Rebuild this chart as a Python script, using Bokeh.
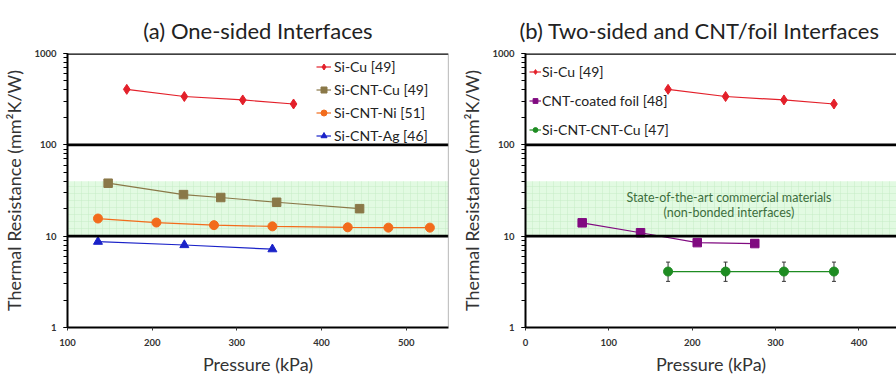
from bokeh.plotting import figure
from bokeh.layouts import row
from bokeh.models import (Span, BoxAnnotation, Whisker, ColumnDataSource, Legend,
                          LegendItem, FixedTicker, LogTicker, Label, PrintfTickFormatter)
from bokeh.embed import file_html
from bokeh.resources import INLINE

# ---------------- data ----------------
# (a) One-sided interfaces
sicu_p = [170, 238, 307, 367]
sicu_r = [405, 338, 310, 280]
cntcu_p = [148, 237, 281, 347, 445]
cntcu_r = [38, 28.5, 26.5, 23.5, 20]
cntni_p = [136, 205, 273, 342, 431, 479, 528]
cntni_r = [15.6, 14.1, 13.2, 12.8, 12.5, 12.4, 12.4]
cntag_p = [136, 238, 342]
cntag_r = [8.7, 8.0, 7.2]

# (b) Two-sided and CNT/foil interfaces
foil_p = [68, 138, 206, 275]
foil_r = [14.0, 10.9, 8.5, 8.3]
cnt2_p = [171, 240, 310, 370]
cnt2_r = [4.1, 4.1, 4.1, 4.1]
cnt2_hi = [5.2, 5.2, 5.2, 5.2]
cnt2_lo = [3.2, 3.2, 3.2, 3.2]

band_low, band_high = 10, 40
xa_ticks = [100, 200, 300, 400, 500]
xb_ticks = [0, 100, 200, 300, 400]

FONT = "Lato"
RED = "#e3202a"
BROWN = "#8a7848"
ORANGE = "#f26c1c"
BLUE = "#1a22c8"
PURPLE = "#800a80"
GREEN = "#1e8c22"


def base_fig(title, x_range, width, left_border, right_border):
    p = figure(width=width, height=377, x_range=x_range, y_range=(1, 1000),
               y_axis_type="log", output_backend="svg", toolbar_location=None,
               min_border_left=left_border, min_border_right=right_border,
               min_border_top=53, min_border_bottom=49, title=title)
    p.title.text_font = FONT
    p.title.text_font_size = "22px"
    p.title.text_font_style = "normal"
    p.title.align = "center"
    p.title.text_color = "#222222"
    p.title.standoff = 19
    p.grid.visible = False
    p.outline_line_color = None
    p.background_fill_color = "white"
    p.border_fill_color = "white"

    band = BoxAnnotation(bottom=band_low, top=band_high, fill_color="#e2fae2",
                         fill_alpha=1.0, line_color=None,
                         hatch_pattern="+", hatch_color="#c4ecc4",
                         hatch_alpha=0.8, hatch_scale=7, hatch_weight=0.6,
                         level="underlay")
    p.add_layout(band)
    for yv in [10, 100, 1000]:
        p.add_layout(Span(location=yv, dimension="width", line_color="black",
                          line_width=2.6))

    for ax in (p.xaxis[0], p.yaxis[0]):
        ax.axis_line_color = "black"
        ax.axis_line_width = 2
        ax.major_label_text_font = FONT
        ax.major_label_text_font_size = "9.5px"
        ax.major_label_text_font_style = "bold"
        ax.major_label_text_color = "#333333"
        ax.axis_label_text_font = FONT
        ax.axis_label_text_font_style = "normal"
        ax.axis_label_text_color = "#333333"
        ax.major_tick_line_color = "#333333"
        ax.major_tick_in = 0
        ax.major_tick_out = 3

    p.xaxis.axis_label = "Pressure (kPa)"
    p.xaxis.axis_label_text_font_size = "18px"
    p.xaxis.major_label_standoff = 8
    p.xaxis.axis_label_standoff = 4
    p.xaxis.minor_tick_line_color = None
    p.yaxis.axis_label = "Thermal Resistance (mm²K/W)"
    p.yaxis.axis_label_text_font_size = "18px"
    p.yaxis.ticker = LogTicker(mantissas=[1], num_minor_ticks=10)
    p.yaxis.formatter = PrintfTickFormatter(format="%d")
    p.yaxis.major_label_standoff = 7
    p.yaxis.axis_label_standoff = 6
    p.yaxis.major_tick_out = 0
    p.yaxis.minor_tick_line_color = "black"
    p.yaxis.minor_tick_line_width = 1
    p.yaxis.minor_tick_in = 0
    p.yaxis.minor_tick_out = 4
    return p


def series(p, xs, ys, color, marker, size):
    r1 = p.line(xs, ys, line_color=color, line_width=1.2)
    r2 = p.scatter(xs, ys, marker=marker, size=size, fill_color=color,
                   line_color=color)
    return [r1, r2]


# ---------------- panel (a) ----------------
pa = base_fig("(a) One-sided Interfaces", (100, 550), 458, 65, 10)
pa.xaxis.ticker = FixedTicker(ticks=xa_ticks)
pa.add_layout(Span(location=550, dimension="height", line_color="#888888",
                   line_width=1.2))

ra = [
    ("Si-Cu [49]", series(pa, sicu_p, sicu_r, RED, "diamond", 10)),
    ("Si-CNT-Cu [49]", series(pa, cntcu_p, cntcu_r, BROWN, "square", 8.5)),
    ("Si-CNT-Ni [51]", series(pa, cntni_p, cntni_r, ORANGE, "circle", 9)),
    ("Si-CNT-Ag [46]", series(pa, cntag_p, cntag_r, BLUE, "triangle", 9)),
]
leg_a = Legend(items=[LegendItem(label=l, renderers=r) for l, r in ra],
               location=(249, 183), glyph_width=15, glyph_height=15,
               label_height=15, spacing=6, padding=0, margin=0,
               label_standoff=3, background_fill_alpha=0,
               border_line_color=None, label_text_font=FONT,
               label_text_font_size="14px", label_text_color="#222222")
pa.add_layout(leg_a)

# ---------------- panel (b) ----------------
pb = base_fig("(b) Two-sided and CNT/foil Interfaces", (0, 445), 438, 64, 0)
pb.title.align = "left"
pb.title.offset = -6
pb.xaxis.ticker = FixedTicker(ticks=xb_ticks)

rb = [
    ("Si-Cu [49]", series(pb, cnt2_p, sicu_r, RED, "diamond", 10)),
    ("CNT-coated foil [48]", series(pb, foil_p, foil_r, PURPLE, "square", 8.5)),
]
src = ColumnDataSource(dict(x=cnt2_p, hi=cnt2_hi, lo=cnt2_lo))
wh = Whisker(base="x", upper="hi", lower="lo", source=src,
             line_color="#333333", line_width=1)
wh.upper_head.size = 4
wh.lower_head.size = 4
wh.upper_head.line_color = "#333333"
wh.lower_head.line_color = "#333333"
pb.add_layout(wh)
rb.append(("Si-CNT-CNT-Cu [47]", series(pb, cnt2_p, cnt2_r, GREEN, "circle", 9)))

leg_b = Legend(items=[LegendItem(label=l, renderers=r) for l, r in rb],
               location=(4, 189), glyph_width=12, glyph_height=15,
               label_height=15, spacing=12, padding=0, margin=0,
               label_standoff=1, background_fill_alpha=0,
               border_line_color=None, label_text_font=FONT,
               label_text_font_size="14px", label_text_color="#222222")
pb.add_layout(leg_b)

for txt, yv in [("State-of-the-art commercial materials", 26.4),
                ("(non-bonded interfaces)", 18.1)]:
    pb.add_layout(Label(x=244, y=yv, text=txt, text_align="center",
                        text_baseline="middle", text_font=FONT,
                        text_font_size="12.5px", text_color="#3d6e3d"))

layout = row(pa, pb, spacing=0)
open("out.html", "w").write(file_html(layout, INLINE))
